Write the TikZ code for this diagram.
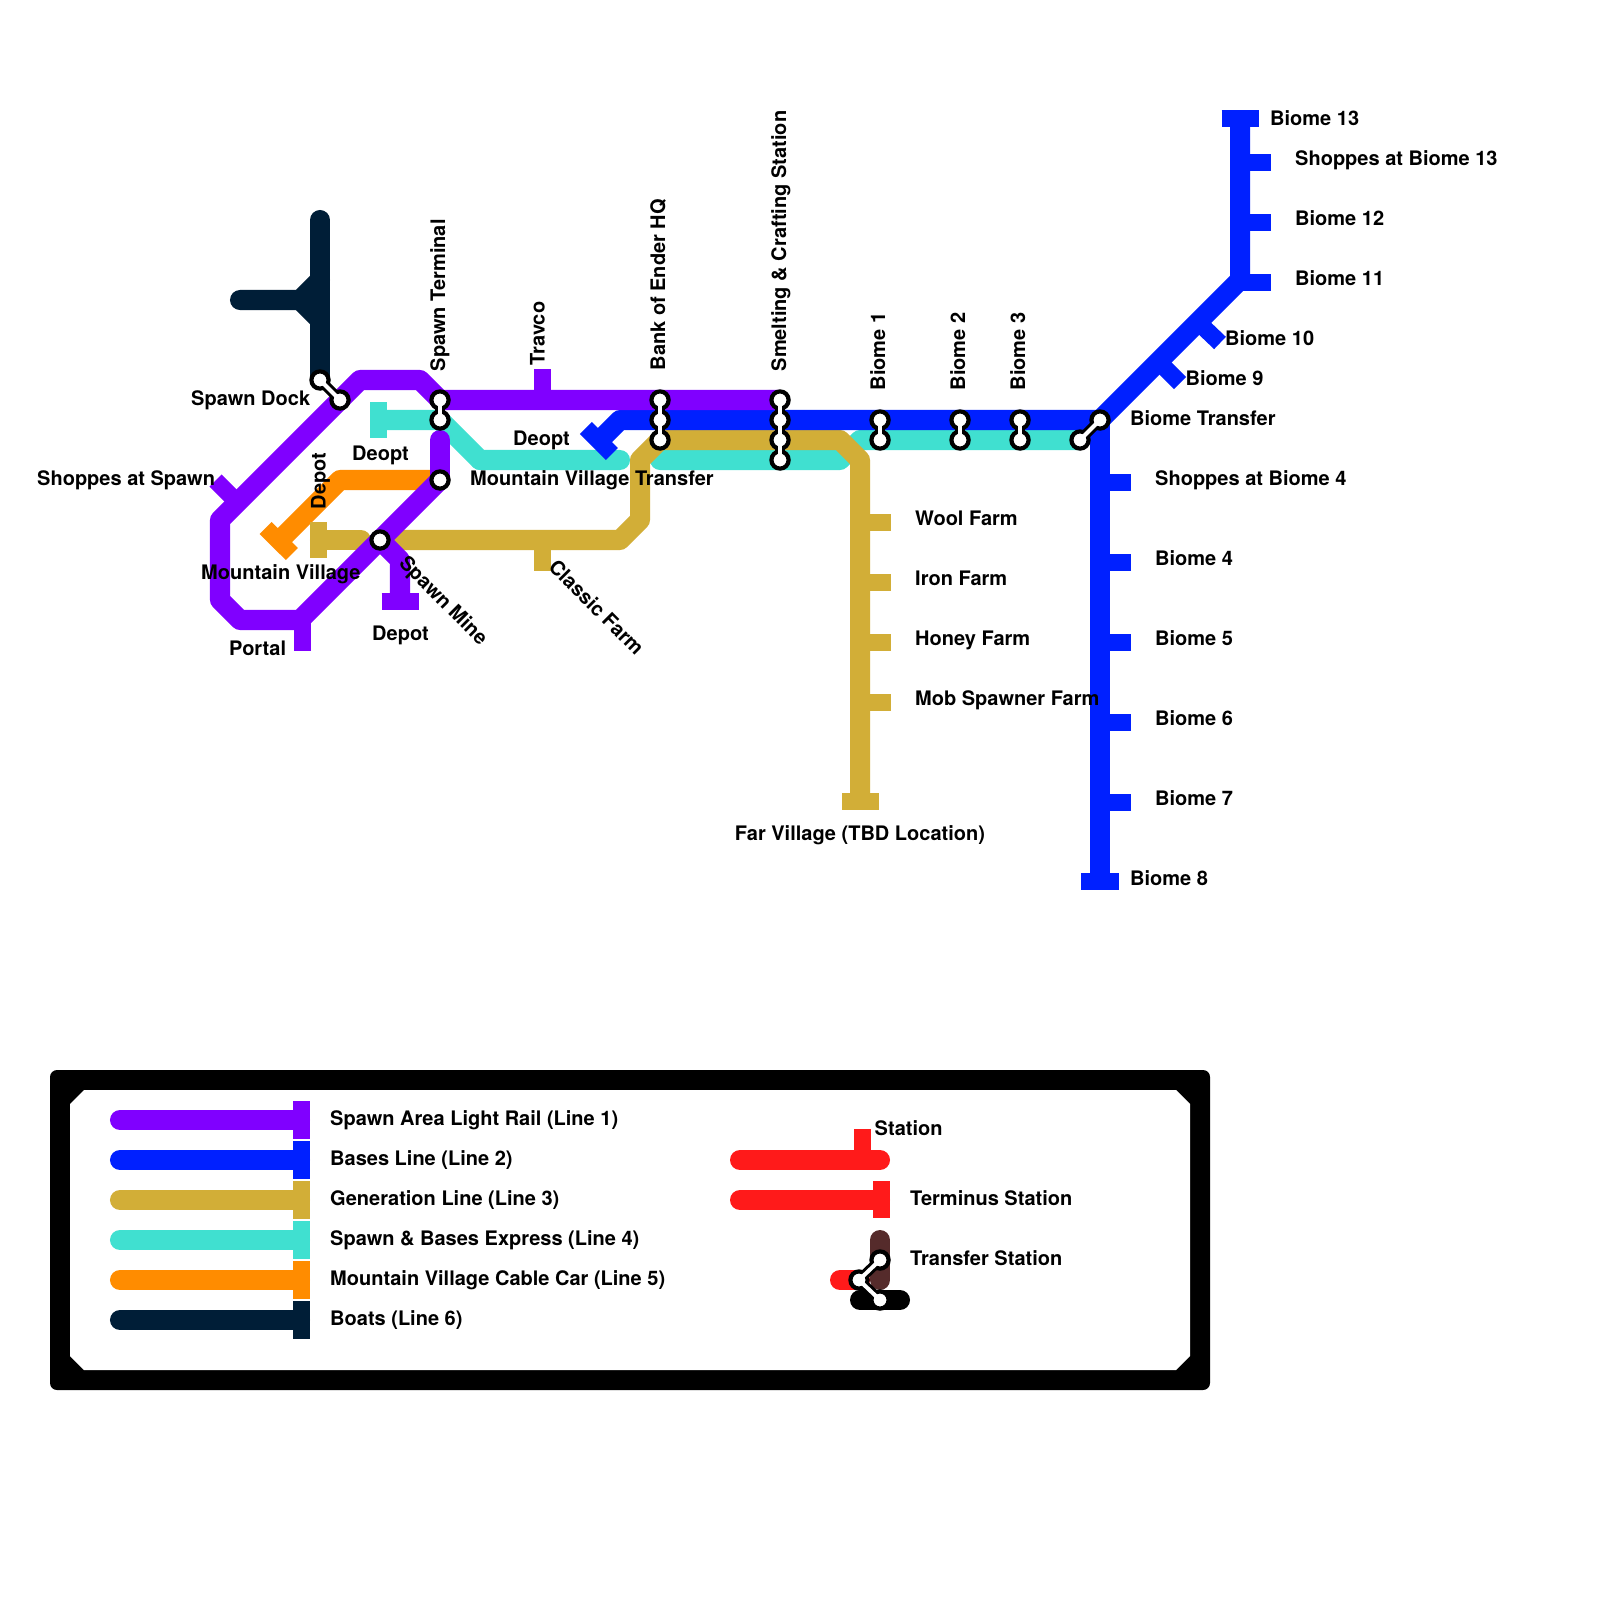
\documentclass[tikz,border=0pt]{standalone}
\usepackage{fontspec}
\setmainfont{TeX Gyre Heros}
\usepackage{xcolor}
\usetikzlibrary{calc}

\definecolor{lineone}{HTML}{8000FF}
\definecolor{linetwo}{HTML}{0020FF}
\definecolor{linethree}{HTML}{D2AE37}
\definecolor{linefour}{HTML}{40E0D0}
\definecolor{linefive}{HTML}{FF8C00}
\definecolor{linesix}{HTML}{001E37}
\definecolor{keyred}{HTML}{FF1A1A}
\definecolor{keybrown}{HTML}{552B2B}

\tikzset{
  route/.style={line width=2mm, line join=round},
  routeend/.style={route, line cap=round},
  stub/.style={line width=1.7mm},
  stn/.style={circle, draw=black, fill=white, line width=0.42mm, minimum size=1.72mm, inner sep=0pt},
  linkblack/.style={draw=black, line width=1mm, shorten <=-0.2mm, shorten >=-0.2mm},
  linkwhite/.style={draw=white, line width=0.4mm},
  labbase/.style={anchor=base west, inner sep=0pt, font=\bfseries\fontsize{5.69}{7}\selectfont},
  lab/.style={labbase, xshift=-0.01cm, yshift=-0.01cm},
  labup/.style={labbase, yshift=-0.02cm, rotate=90},
  labslant/.style={labbase, rotate=-45}
}

% two stations joined by a dumbbell
\newcommand{\xfer}[2]{%
  \draw[linkblack] (#1) -- (#2);
  \draw[linkwhite] (#1.center) -- (#2.center);
}

\begin{document}
\begin{tikzpicture}[x=0.01cm, y=-0.01cm]
  \useasboundingbox (0,0) rectangle (1600,1600);
  \fill[white] (0,0) rectangle (1600,1600);

  % line 6 (boats)
  \draw[routeend, linesix] (320,220) -- (320,380);
  \draw[routeend, linesix] (240,300) -- (300,300) -- (320,280);
  \draw[route, linesix] (300,300) -- (320,320);

  % line 5 (cable car)
  \draw[route, linefive] (280,540) -- (340,480) -- (430,480);
  \draw[stub, linefive] (265.7,528) -- (291.8,554);

  % line 4 (express)
  \draw[route, linefour] (378.5,420) -- (440,420) -- (480,460) -- (620,460);
  \draw[routeend, linefour] (480,460) -- (620,460);
  \draw[routeend, linefour] (660,460) -- (840,460) -- (860,440) -- (1080,440);
  \draw[stub, linefour] (378.5,402) -- (378.5,438);

  % line 3 (generation)
  \draw[routeend, linethree] (320,540) -- (361,540);
  \draw[route, linethree] (380,540) -- (620,540) -- (640,520) -- (640,460) -- (660,440)
    -- (840,440) -- (860,460) -- (860,801);
  \draw[stub, linethree] (318.5,522) -- (318.5,558);
  \draw[stub, linethree] (842,801) -- (879,801);
  \draw[stub, linethree] (542.5,540) -- (542.5,571);
  \foreach \y in {522.5,582.5,642.5,702.5}
    \draw[stub, linethree] (860,\y) -- (891,\y);

  % line 2 (bases)
  \draw[route, linetwo] (600,440) -- (620,420) -- (1100,420) -- (1240,280) -- (1240,118);
  \draw[route, linetwo] (1100,420) -- (1100,881);
  \draw[stub, linetwo] (585.8,428) -- (611.8,454);
  \draw[stub, linetwo] (1221.5,118.5) -- (1259,118.5);
  \draw[stub, linetwo] (1081,881.5) -- (1119,881.5);
  \foreach \y in {162.5,222.5,282.5}
    \draw[stub, linetwo] (1240,\y) -- (1271,\y);
  \foreach \y in {482.5,562.5,642.5,722.5,802.5}
    \draw[stub, linetwo] (1100,\y) -- (1131,\y);
  \draw[stub, linetwo] (1198,322) -- (1220,343);
  \draw[stub, linetwo] (1158,361) -- (1180,383);

  % line 1 (light rail)
  \draw[route, lineone] (780,400) -- (440,400) -- (420,380) -- (360,380) -- (220,520)
    -- (220,600) -- (240,620) -- (300,620) -- (440,480);
  \draw[routeend, lineone] (440,480) -- (440,440);
  \draw[route, lineone] (380,540) -- (400,560) -- (400,601);
  \draw[stub, lineone] (381.5,601.5) -- (419,601.5);
  \draw[stub, lineone] (302.5,620) -- (302.5,651);
  \draw[stub, lineone] (240,505) -- (215.5,480.5);
  \draw[stub, lineone] (542.5,400) -- (542.5,369);

  % stations
  \node[stn] (dockn) at (320,380) {};
  \node[stn] (docks) at (340,400) {};
  \node[stn] (termn) at (440,400) {};
  \node[stn] (terms) at (440,420) {};
  \node[stn] (mvt) at (440,480) {};
  \node[stn] (mine) at (380,540) {};
  \node[stn] (banka) at (660,400) {};
  \node[stn] (bankb) at (660,420) {};
  \node[stn] (bankc) at (660,440) {};
  \node[stn] (smelta) at (780,400) {};
  \node[stn] (smeltb) at (780,420) {};
  \node[stn] (smeltc) at (780,440) {};
  \node[stn] (smeltd) at (780,460) {};
  \node[stn] (onea) at (880,420) {};
  \node[stn] (oneb) at (880,440) {};
  \node[stn] (twoa) at (960,420) {};
  \node[stn] (twob) at (960,440) {};
  \node[stn] (threea) at (1020,420) {};
  \node[stn] (threeb) at (1020,440) {};
  \node[stn] (btrana) at (1100,420) {};
  \node[stn] (btranb) at (1080,440) {};
  \xfer{dockn}{docks}
  \xfer{termn}{terms}
  \xfer{banka}{bankb}
  \xfer{bankb}{bankc}
  \xfer{smelta}{smeltb}
  \xfer{smeltb}{smeltc}
  \xfer{smeltc}{smeltd}
  \xfer{onea}{oneb}
  \xfer{twoa}{twob}
  \xfer{threea}{threeb}
  \xfer{btrana}{btranb}

  % labels on the map
  \node[labup] (lterm) at (445,370) {Spawn Terminal};
  \node[labup] (ltravco) at (544.5,364) {Travco};
  \node[labup] (lbank) at (665,369) {Bank of Ender HQ};
  \node[labup] (lsmelt) at (786,370) {Smelting \& Crafting Station};
  \node[labup] (lone) at (885,389) {Biome 1};
  \node[labup] (ltwo) at (965,389) {Biome 2};
  \node[labup] (lthree) at (1025,389) {Biome 3};
  \node[labup] (ldepotmv) at (325.5,508) {Depot};
  \node[lab] (ldock) at (191.5,404) {Spawn Dock};
  \node[lab] (lshop) at (37.5,484.5) {Shoppes at Spawn};
  \node[lab] (lmv) at (201.5,578) {Mountain Village};
  \node[lab] (lportal) at (229.5,654) {Portal};
  \node[lab] (ldepot) at (372.5,639) {Depot};
  \node[lab] (ldeopta) at (352.5,459) {Deopt};
  \node[lab] (ldeoptb) at (513.5,444) {Deopt};
  \node[lab] (lmvt) at (470.5,484) {Mountain Village Transfer};
  \node[labslant] (lmine) at (397.5,564) {Spawn Mine};
  \node[labslant] (lclassic) at (547,568) {Classic Farm};
  \node[lab] (lwool) at (915.5,524) {Wool Farm};
  \node[lab] (liron) at (915.5,584) {Iron Farm};
  \node[lab] (lhoney) at (915.5,644) {Honey Farm};
  \node[lab] (lmob) at (915.5,704) {Mob Spawner Farm};
  \node[lab, anchor=base] (lfar) at (861,839) {Far Village (TBD Location)};
  \node[lab] (lb13) at (1270.5,125) {Biome 13};
  \node[lab] (lsb13) at (1295.5,164.5) {Shoppes at Biome 13};
  \node[lab] (lb12) at (1295.5,224.5) {Biome 12};
  \node[lab] (lb11) at (1295.5,284.5) {Biome 11};
  \node[lab] (lb10) at (1225.5,344) {Biome 10};
  \node[lab] (lb9) at (1186,384) {Biome 9};
  \node[lab] (lbtran) at (1130.5,424.5) {Biome Transfer};
  \node[lab] (lsb4) at (1155.5,484.5) {Shoppes at Biome 4};
  \node[lab] (lb4) at (1155.5,564) {Biome 4};
  \node[lab] (lb5) at (1155.5,644) {Biome 5};
  \node[lab] (lb6) at (1155.5,724) {Biome 6};
  \node[lab] (lb7) at (1155.5,804) {Biome 7};
  \node[lab] (lb8) at (1130.5,884.5) {Biome 8};

  % key frame
  \fill[black, rounded corners=0.07cm] (50,1070) rectangle (1210,1390);
  \fill[white] (84,1090) -- (1176,1090) -- (1190,1104) -- (1190,1356) -- (1176,1370)
    -- (84,1370) -- (70,1356) -- (70,1104) -- cycle;

  % key, one row per line
  \foreach \col/\yy/\txt in {
    lineone/1120/Spawn Area Light Rail (Line 1),
    linetwo/1160/Bases Line (Line 2),
    linethree/1200/Generation Line (Line 3),
    linefour/1240/Spawn \& Bases Express (Line 4),
    linefive/1280/Mountain Village Cable Car (Line 5),
    linesix/1320/Boats (Line 6)} {
    \draw[routeend, \col] (120,\yy) -- (300,\yy);
    \draw[stub, \col] (301.5,\yy-19) -- (301.5,\yy+18.5);
    \node[lab] at (330.5,\yy+4) {\txt};
  }

  % key, symbols
  \draw[routeend, keyred] (740,1160) -- (880,1160);
  \draw[stub, keyred] (862.5,1160) -- (862.5,1129);
  \node[lab] (kstation) at (875,1134) {Station};
  \draw[routeend, keyred] (740,1200) -- (880,1200);
  \draw[stub, keyred] (881.5,1181) -- (881.5,1218);
  \node[lab] (kterm) at (910.5,1204) {Terminus Station};
  \draw[routeend, keybrown] (880,1240) -- (880,1280);
  \draw[routeend, keyred] (840,1280) -- (860,1280);
  \draw[routeend, black] (860,1300) -- (900,1300);
  \node[stn] (ka) at (880,1260) {};
  \node[stn] (kb) at (859,1280) {};
  \node[stn] (kc) at (880,1300) {};
  \xfer{ka}{kb}
  \xfer{kb}{kc}
  \node[lab] (ktrans) at (910.5,1264) {Transfer Station};
\end{tikzpicture}
\end{document}
